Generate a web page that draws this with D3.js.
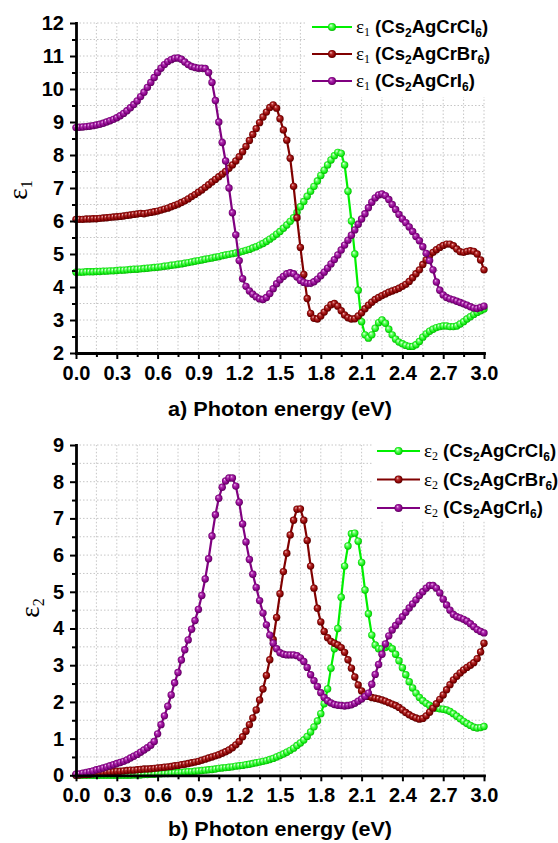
<!DOCTYPE html>
<html>
<head>
<meta charset="utf-8">
<script src="https://cdn.jsdelivr.net/npm/d3@7"></script>
<style>
  html, body { margin: 0; padding: 0; background: #fff; }
  svg { display: block; }
</style>
</head>
<body>
<svg id="chart" width="558" height="843"></svg>
<script>
// Photon energy grid (eV)
const energy = [
  0, 0.025, 0.05, 0.075, 0.1, 0.125, 0.15, 0.175, 0.2, 0.225,
  0.25, 0.275, 0.3, 0.325, 0.35, 0.375, 0.4, 0.425, 0.45, 0.475,
  0.5, 0.525, 0.55, 0.575, 0.6, 0.625, 0.65, 0.675, 0.7, 0.725,
  0.75, 0.775, 0.8, 0.825, 0.85, 0.875, 0.9, 0.925, 0.95, 0.975,
  1.0, 1.025, 1.05, 1.075, 1.1, 1.125, 1.15, 1.175, 1.2, 1.225,
  1.25, 1.275, 1.3, 1.325, 1.35, 1.375, 1.4, 1.425, 1.45, 1.475,
  1.5, 1.525, 1.55, 1.575, 1.6, 1.625, 1.65, 1.675, 1.7, 1.725,
  1.75, 1.775, 1.8, 1.825, 1.85, 1.875, 1.9, 1.925, 1.95, 1.975,
  2.0, 2.025, 2.05, 2.075, 2.1, 2.125, 2.15, 2.175, 2.2, 2.225,
  2.25, 2.275, 2.3, 2.325, 2.35, 2.375, 2.4, 2.425, 2.45, 2.475,
  2.5, 2.525, 2.55, 2.575, 2.6, 2.625, 2.65, 2.675, 2.7, 2.725,
  2.75, 2.775, 2.8, 2.825, 2.85, 2.875, 2.9, 2.925, 2.95, 2.975,
  3.0
];

// Real part of the dielectric function, epsilon_1
const eps1Cl = [
  4.45, 4.45, 4.45, 4.46, 4.46, 4.46, 4.47, 4.47, 4.48, 4.48,
  4.49, 4.49, 4.50, 4.51, 4.51, 4.52, 4.53, 4.54, 4.54, 4.55,
  4.56, 4.57, 4.58, 4.59, 4.60, 4.61, 4.63, 4.64, 4.66, 4.67,
  4.69, 4.70, 4.72, 4.74, 4.76, 4.78, 4.80, 4.82, 4.84, 4.86,
  4.88, 4.90, 4.92, 4.95, 4.97, 4.99, 5.01, 5.03, 5.05, 5.08,
  5.11, 5.14, 5.18, 5.22, 5.27, 5.32, 5.38, 5.45, 5.52, 5.60,
  5.68, 5.78, 5.88, 5.99, 6.10, 6.26, 6.43, 6.59, 6.75, 6.90,
  7.05, 7.21, 7.38, 7.54, 7.70, 7.85, 7.98, 8.08, 8.05, 7.70,
  6.90, 6.00, 5.00, 3.90, 2.95, 2.55, 2.45, 2.55, 2.75, 2.92,
  3.00, 2.90, 2.72, 2.55, 2.42, 2.33, 2.28, 2.23, 2.20, 2.20,
  2.25, 2.35, 2.48, 2.58, 2.66, 2.72, 2.77, 2.80, 2.82, 2.82,
  2.80, 2.80, 2.82, 2.88, 2.95, 3.03, 3.10, 3.17, 3.23, 3.28,
  3.33
];
const eps1Br = [
  6.05, 6.05, 6.05, 6.06, 6.06, 6.07, 6.07, 6.08, 6.09, 6.10,
  6.11, 6.12, 6.13, 6.14, 6.15, 6.17, 6.18, 6.20, 6.21, 6.23,
  6.22, 6.24, 6.26, 6.28, 6.30, 6.33, 6.36, 6.39, 6.43, 6.47,
  6.51, 6.56, 6.61, 6.67, 6.74, 6.80, 6.87, 6.94, 7.02, 7.10,
  7.18, 7.26, 7.34, 7.42, 7.50, 7.60, 7.70, 7.82, 7.95, 8.10,
  8.26, 8.44, 8.62, 8.80, 8.98, 9.15, 9.30, 9.44, 9.52, 9.42,
  9.10, 8.76, 8.45, 7.90, 7.05, 6.10, 5.20, 4.38, 3.65, 3.20,
  3.05, 3.03, 3.12, 3.24, 3.36, 3.46, 3.50, 3.42, 3.28, 3.15,
  3.07, 3.03, 3.04, 3.12, 3.22, 3.34, 3.45, 3.54, 3.62, 3.68,
  3.74, 3.79, 3.84, 3.88, 3.92, 3.96, 4.02, 4.08, 4.17, 4.28,
  4.40, 4.52, 4.68, 4.82, 4.95, 5.05, 5.13, 5.20, 5.26, 5.30,
  5.30, 5.25, 5.15, 5.07, 5.05, 5.08, 5.10, 5.08, 5.00, 4.82,
  4.52
];
const eps1I = [
  8.83, 8.84, 8.85, 8.86, 8.87, 8.89, 8.91, 8.93, 8.96, 9.00,
  9.04, 9.08, 9.13, 9.19, 9.26, 9.34, 9.43, 9.53, 9.64, 9.77,
  9.90, 10.05, 10.20, 10.35, 10.50, 10.63, 10.74, 10.83, 10.89, 10.93,
  10.94, 10.90, 10.82, 10.74, 10.68, 10.65, 10.63, 10.63, 10.62, 10.50,
  10.20, 9.65, 9.00, 8.38, 7.82, 7.00, 6.25, 5.58, 4.80, 4.25,
  4.02, 3.88, 3.78, 3.70, 3.64, 3.62, 3.68, 3.80, 3.95, 4.10,
  4.22, 4.32, 4.40, 4.43, 4.40, 4.30, 4.20, 4.14, 4.11, 4.11,
  4.16, 4.24, 4.34, 4.45, 4.57, 4.70, 4.83, 4.97, 5.12, 5.27,
  5.42, 5.57, 5.73, 5.90, 6.06, 6.22, 6.40, 6.57, 6.70, 6.79,
  6.82, 6.77, 6.65, 6.50, 6.35, 6.20, 6.06, 5.95, 5.82, 5.68,
  5.53, 5.40, 5.22, 5.02, 4.80, 4.52, 4.15, 3.90, 3.76, 3.68,
  3.64, 3.61, 3.57, 3.53, 3.49, 3.45, 3.40, 3.36, 3.35, 3.38,
  3.42
];

// Imaginary part of the dielectric function, epsilon_2
const eps2Cl = [
  0.00, 0.00, 0.00, 0.00, 0.00, 0.00, 0.00, 0.00, 0.00, 0.00,
  0.00, 0.00, 0.00, 0.00, 0.00, 0.00, 0.00, 0.01, 0.01, 0.01,
  0.02, 0.02, 0.03, 0.03, 0.04, 0.04, 0.05, 0.05, 0.06, 0.07,
  0.07, 0.08, 0.09, 0.10, 0.10, 0.11, 0.12, 0.13, 0.14, 0.15,
  0.16, 0.17, 0.19, 0.20, 0.21, 0.22, 0.23, 0.25, 0.26, 0.27,
  0.29, 0.30, 0.32, 0.34, 0.36, 0.38, 0.40, 0.43, 0.46, 0.50,
  0.54, 0.58, 0.63, 0.68, 0.74, 0.81, 0.88, 0.96, 1.06, 1.18,
  1.32, 1.48, 1.68, 1.95, 2.35, 2.92, 3.45, 4.00, 4.85, 5.70,
  6.25, 6.58, 6.60, 6.38, 5.80, 5.05, 4.40, 3.82, 3.55, 3.45,
  3.44, 3.48, 3.52, 3.45, 3.30, 3.12, 2.93, 2.74, 2.55, 2.38,
  2.24, 2.12, 2.03, 1.96, 1.90, 1.86, 1.83, 1.81, 1.80, 1.78,
  1.74, 1.68, 1.61, 1.54, 1.47, 1.41, 1.36, 1.31, 1.29, 1.30,
  1.33
];
const eps2Br = [
  0.00, 0.01, 0.02, 0.02, 0.03, 0.04, 0.05, 0.06, 0.07, 0.08,
  0.09, 0.10, 0.11, 0.11, 0.12, 0.13, 0.14, 0.14, 0.15, 0.16,
  0.17, 0.17, 0.18, 0.19, 0.20, 0.21, 0.22, 0.23, 0.24, 0.26,
  0.27, 0.29, 0.30, 0.32, 0.34, 0.36, 0.38, 0.41, 0.44, 0.47,
  0.50, 0.53, 0.56, 0.60, 0.64, 0.69, 0.75, 0.83, 0.92, 1.05,
  1.20, 1.38, 1.56, 1.78, 2.05, 2.35, 2.72, 3.15, 3.70, 4.30,
  4.95, 5.55, 6.05, 6.55, 6.95, 7.25, 7.26, 6.95, 6.40, 5.70,
  5.10, 4.55, 4.18, 3.92, 3.75, 3.65, 3.60, 3.55, 3.48, 3.35,
  3.15, 2.92, 2.68, 2.46, 2.30, 2.20, 2.15, 2.12, 2.10, 2.08,
  2.05, 2.02, 1.98, 1.94, 1.90, 1.85, 1.78, 1.71, 1.65, 1.60,
  1.56, 1.53, 1.55, 1.62, 1.72, 1.83, 1.95, 2.07, 2.19, 2.33,
  2.47, 2.60, 2.70, 2.79, 2.87, 2.94, 3.00, 3.07, 3.18, 3.36,
  3.60
];
const eps2I = [
  0.03, 0.04, 0.06, 0.08, 0.10, 0.12, 0.15, 0.17, 0.20, 0.23,
  0.26, 0.29, 0.32, 0.35, 0.38, 0.42, 0.47, 0.52, 0.57, 0.63,
  0.69, 0.75, 0.82, 0.92, 1.13, 1.38, 1.62, 1.88, 2.19, 2.52,
  2.80, 3.14, 3.42, 3.69, 3.98, 4.22, 4.52, 4.90, 5.35, 5.90,
  6.52, 7.10, 7.55, 7.85, 8.02, 8.10, 8.10, 7.88, 7.44, 6.85,
  6.36, 5.88, 5.48, 5.12, 4.76, 4.42, 4.10, 3.82, 3.60, 3.45,
  3.34, 3.30, 3.28, 3.28, 3.28, 3.26, 3.20, 3.10, 2.94, 2.74,
  2.58, 2.42, 2.25, 2.12, 2.03, 1.97, 1.93, 1.91, 1.90, 1.89,
  1.90, 1.92, 1.96, 2.02, 2.08, 2.15, 2.24, 2.48, 2.75, 3.02,
  3.30, 3.58, 3.80, 3.96, 4.08, 4.20, 4.32, 4.44, 4.56, 4.67,
  4.78, 4.90, 5.00, 5.10, 5.17, 5.17, 5.10, 4.97, 4.80, 4.64,
  4.50, 4.38, 4.32, 4.29, 4.25, 4.20, 4.13, 4.05, 3.97, 3.92,
  3.88
];

// Axis ticks
const energyTicks = [0, 0.3, 0.6, 0.9, 1.2, 1.5, 1.8, 2.1, 2.4, 2.7, 3.0];
const eps1Ticks = [2, 3, 4, 5, 6, 7, 8, 9, 10, 11, 12];
const eps2Ticks = [0, 1, 2, 3, 4, 5, 6, 7, 8, 9];

// Compound labels: [base, subscript, middle, subscript]
const compounds = [
  ["Cs", "2", "AgCrCl", "6"],
  ["Cs", "2", "AgCrBr", "6"],
  ["Cs", "2", "AgCrI", "6"]
];
const panelTitles = ["a) Photon energy (eV)", "b) Photon energy (eV)"];

// Styling
const SANS = "'Liberation Sans', Arial, Helvetica, sans-serif";
const SERIF = "'Liberation Serif', 'Times New Roman', serif";
const palette = [
  { id: "cl", line: "#00f000", stops: ["#f4fff4", "#70ff70", "#10ee10", "#00a000"] },
  { id: "br", line: "#800000", stops: ["#f4c8c8", "#b83030", "#860000", "#4a0000"] },
  { id: "io", line: "#800080", stops: ["#f4c8f4", "#b030b0", "#860086", "#4a004a"] }
];

const svg = d3.select("#chart");
const defs = svg.append("defs");
palette.forEach(p => {
  const gr = defs.append("radialGradient")
    .attr("id", "ball-" + p.id)
    .attr("cx", "50%").attr("cy", "50%").attr("r", "55%")
    .attr("fx", "35%").attr("fy", "30%");
  [0, 0.3, 0.72, 1].forEach((o, i) => {
    gr.append("stop").attr("offset", o).attr("stop-color", p.stops[i]);
  });
});

const plotLeft = 76, plotRight = 484;
const x = d3.scaleLinear().domain([0, 3]).range([plotLeft, plotRight]);

const panels = [
  {
    series: [eps1Cl, eps1Br, eps1I], ticks: eps1Ticks, symbolSub: "1",
    top: 23, bottom: 353, title: panelTitles[0], titleY: 416,
    ylabel: { x: 27, y: 190 },
    legend: { x0: 312, x1: 352, tx: 356, rows: [27, 54, 81], bg: [306, 0, 182, 97] }
  },
  {
    series: [eps2Cl, eps2Br, eps2I], ticks: eps2Ticks, symbolSub: "2",
    top: 445, bottom: 775.3, title: panelTitles[1], titleY: 836,
    ylabel: { x: 39, y: 608 },
    legend: { x0: 377, x1: 420, tx: 424, rows: [451, 479.5, 508], bg: [372, 438, 116, 82] }
  }
];

function midpoints(arr) {
  return arr.slice(1).map((v, i) => (v + arr[i]) / 2);
}

function epsLabel(sel, sub, bigSize, subSize, subShift) {
  sel.append("tspan").attr("font-family", SERIF).attr("font-size", bigSize).text("\u03b5");
  sel.append("tspan").attr("font-family", SERIF).attr("font-size", subSize)
    .attr("dy", subShift).text(sub);
  return sel;
}

panels.forEach(pn => {
  const yMin = pn.ticks[0], yMax = pn.ticks[pn.ticks.length - 1];
  const y = d3.scaleLinear().domain([yMin, yMax]).range([pn.bottom, pn.top]);
  const g = svg.append("g");

  const xMinor = midpoints(energyTicks);
  const yMinor = midpoints(pn.ticks);

  // dotted grid at major and minor positions
  const grid = g.append("g").attr("stroke", "#c6c6c6").attr("stroke-width", 1)
    .attr("stroke-dasharray", "1.5,2");
  energyTicks.concat(xMinor).filter(v => v > 0).forEach(v => {
    grid.append("line").attr("x1", x(v)).attr("x2", x(v))
      .attr("y1", y(yMin)).attr("y2", y(yMax));
  });
  pn.ticks.concat(yMinor).filter(v => v > yMin).forEach(v => {
    grid.append("line").attr("x1", x(0)).attr("x2", x(3))
      .attr("y1", y(v)).attr("y2", y(v));
  });

  // legend background
  const lg = pn.legend;
  g.append("rect").attr("x", lg.bg[0]).attr("y", lg.bg[1])
    .attr("width", lg.bg[2]).attr("height", lg.bg[3]).attr("fill", "#fff");

  // curves with ball markers
  const line = d3.line().x((d, i) => x(energy[i])).y(d => y(d));
  pn.series.forEach((vals, si) => {
    const p = palette[si];
    const sg = g.append("g");
    sg.append("path").attr("d", line(vals)).attr("fill", "none")
      .attr("stroke", p.line).attr("stroke-width", 2.2);
    sg.selectAll("circle").data(vals).join("circle")
      .attr("cx", (d, i) => x(energy[i]))
      .attr("cy", d => y(d))
      .attr("r", 3.7)
      .attr("fill", "url(#ball-" + p.id + ")");
  });

  // axes
  const fmt = d3.format(".1f");
  const xAxis = g.append("g").attr("transform", `translate(0,${pn.bottom})`)
    .call(d3.axisBottom(x).tickValues(energyTicks).tickFormat(fmt)
      .tickSize(6).tickSizeOuter(0).tickPadding(7));
  const xAxisMinor = g.append("g").attr("transform", `translate(0,${pn.bottom})`)
    .call(d3.axisBottom(x).tickValues(xMinor).tickFormat("").tickSize(4).tickSizeOuter(0));
  const yAxis = g.append("g").attr("transform", `translate(${plotLeft},0)`)
    .call(d3.axisLeft(y).tickValues(pn.ticks).tickFormat(d3.format("d"))
      .tickSize(6).tickSizeOuter(0).tickPadding(6));
  const yAxisMinor = g.append("g").attr("transform", `translate(${plotLeft},0)`)
    .call(d3.axisLeft(y).tickValues(yMinor).tickFormat("").tickSize(4).tickSizeOuter(0));

  [xAxisMinor, yAxisMinor].forEach(a => a.select(".domain").remove());
  [xAxis, yAxis, xAxisMinor, yAxisMinor].forEach(a => {
    a.selectAll(".tick line").attr("stroke", "#000").attr("stroke-width", 2);
    a.selectAll(".tick text").attr("fill", "#000").attr("font-family", SANS)
      .attr("font-weight", "bold").attr("font-size", 20);
    a.select(".domain").attr("stroke", "#000").attr("stroke-width", 2.8)
      .attr("stroke-linecap", "square");
  });

  // axis titles
  g.append("text").attr("x", (plotLeft + plotRight) / 2).attr("y", pn.titleY)
    .attr("text-anchor", "middle").attr("font-family", SANS)
    .attr("font-weight", "bold").attr("font-size", 21)
    .attr("textLength", 224).attr("lengthAdjust", "spacingAndGlyphs")
    .text(pn.title);

  const yl = g.append("text")
    .attr("transform", `translate(${pn.ylabel.x},${pn.ylabel.y}) rotate(-90)`)
    .attr("text-anchor", "middle").attr("fill", "#000");
  epsLabel(yl, pn.symbolSub, 27, 16, 5);

  // legend entries
  compounds.forEach((c, i) => {
    const p = palette[i];
    const ry = lg.rows[i];
    g.append("line").attr("x1", lg.x0).attr("x2", lg.x1).attr("y1", ry).attr("y2", ry)
      .attr("stroke", p.line).attr("stroke-width", 2.2);
    g.append("circle").attr("cx", (lg.x0 + lg.x1) / 2).attr("cy", ry).attr("r", 4)
      .attr("fill", "url(#ball-" + p.id + ")");
    const t = g.append("text").attr("x", lg.tx).attr("y", ry + 6).attr("fill", "#000");
    epsLabel(t, pn.symbolSub, 19, 12, 3);
    const bold = s => t.append("tspan").attr("font-family", SANS).attr("font-weight", "bold");
    bold().attr("font-size", 18.5).attr("dy", -3).text(" (" + c[0]);
    bold().attr("font-size", 12).attr("dy", 4).text(c[1]);
    bold().attr("font-size", 18.5).attr("dy", -4).text(c[2]);
    bold().attr("font-size", 12).attr("dy", 4).text(c[3]);
    bold().attr("font-size", 18.5).attr("dy", -4).text(")");
  });
});
</script>
</body>
</html>
